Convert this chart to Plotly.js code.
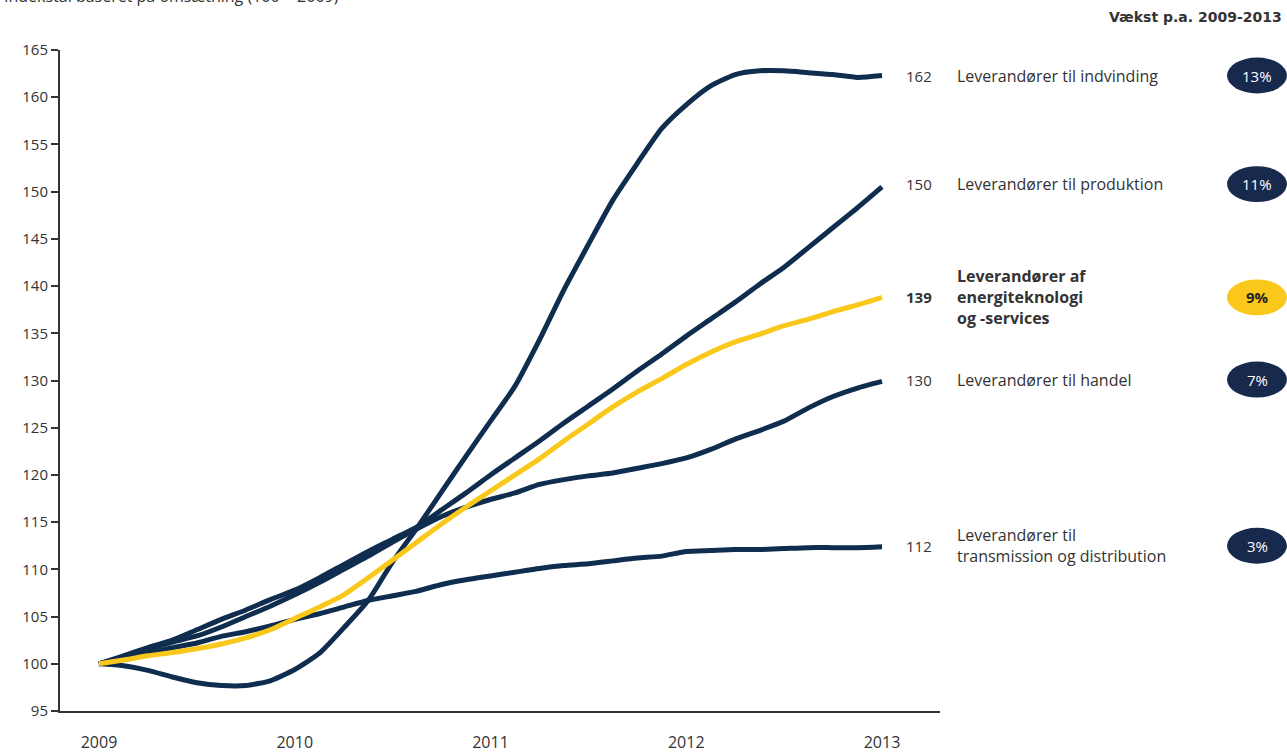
<!DOCTYPE html>
<html>
<head>
<meta charset="utf-8">
<script src="https://cdn.plot.ly/plotly-3.0.1.min.js"></script>
<style>html,body{margin:0;padding:0;background:#fff;}#chart{width:1287px;height:752px;}</style>
</head>
<body>
<div id="chart"></div>
<script>
// x positions: every 1/8 year from 2009 to 2013
var years = [];
for (var k = 0; k <= 32; k++) { years.push(2009 + k / 8); }

var indvinding = [100, 99.8, 99.3, 98.6, 98.0, 97.7, 97.7, 98.2, 99.4, 101.1, 103.8, 106.7, 110.8, 114.4, 118.2, 122.0, 125.7, 129.4, 134.3, 139.6, 144.4, 149.1, 153.0, 156.7, 159.2, 161.2, 162.4, 162.8, 162.8, 162.6, 162.4, 162.1, 162.3];
var produktion = [100, 100.85, 101.7, 102.5, 103.6, 104.7, 105.7, 106.8, 107.8, 109.1, 110.5, 111.9, 113.2, 114.5, 116.3, 118.1, 120.0, 121.8, 123.6, 125.5, 127.3, 129.1, 131.0, 132.8, 134.7, 136.5, 138.3, 140.2, 142.0, 144.1, 146.2, 148.3, 150.5];
var handel = [100, 100.7, 101.5, 102.3, 102.95, 103.9, 105.0, 106.1, 107.3, 108.6, 110.0, 111.4, 112.9, 114.3, 115.6, 116.6, 117.4, 118.1, 119.0, 119.5, 119.9, 120.2, 120.7, 121.2, 121.8, 122.7, 123.8, 124.7, 125.7, 127.1, 128.3, 129.2, 129.9];
var transmission = [100, 100.5, 101.1, 101.7, 102.2, 102.9, 103.4, 104.0, 104.7, 105.3, 106.0, 106.7, 107.2, 107.7, 108.4, 108.9, 109.3, 109.7, 110.1, 110.4, 110.6, 110.9, 111.2, 111.4, 111.9, 112.0, 112.1, 112.1, 112.2, 112.3, 112.3, 112.3, 112.4];
var energi = [100, 100.4, 100.85, 101.2, 101.6, 102.1, 102.75, 103.6, 104.8, 106.0, 107.3, 109.1, 111.0, 112.9, 114.8, 116.6, 118.3, 120.0, 121.7, 123.6, 125.4, 127.2, 128.8, 130.2, 131.7, 133.0, 134.1, 134.9, 135.8, 136.5, 137.3, 138.0, 138.8];

var seriesNames = ["Leverandører til indvinding", "Leverandører til produktion", "Leverandører af<br>energiteknologi<br>og -services", "Leverandører til handel", "Leverandører til<br>transmission og distribution"];
var endLabels = ["162", "150", "139", "130", "112"];
var growth = ["13%", "11%", "9%", "7%", "3%"];
var seriesData = [indvinding, produktion, energi, handel, transmission];
var highlight = [false, false, true, false, false];

var xTickVals = [2009, 2010, 2011, 2012, 2013];
var xTickText = ["2009", "2010", "2011", "2012", "2013"];
var yTickVals = [95, 100, 105, 110, 115, 120, 125, 130, 135, 140, 145, 150, 155, 160, 165];

var navy = "#0f2d4f";
var pillNavy = "#17294d";
var yellow = "#fac81a";
var textCol = "#333333";
var FONT = "Open Sans, sans-serif";

var traces = [];
var order = [0, 1, 3, 4, 2];
order.forEach(function (i) {
  traces.push({
    x: years, y: seriesData[i], type: "scatter", mode: "lines",
    line: {color: highlight[i] ? yellow : navy, width: 5, shape: "spline", smoothing: 0.6},
    hoverinfo: "skip", showlegend: false
  });
});

var annotations = [];
var shapes = [];
var plotL = 60, plotW = 880;
function px2paper(px) { return (px - plotL) / plotW; }
var labelNudge = [0, 0.3, 0, 0.2, 0.1];

seriesData.forEach(function (s, i) {
  var yEnd = s[s.length - 1] + labelNudge[i];
  var bold = highlight[i];
  annotations.push({
    xref: "paper", yref: "y", x: px2paper(934), y: yEnd, xanchor: "right", yanchor: "middle",
    text: bold ? "<b>" + endLabels[i] + "</b>" : endLabels[i], showarrow: false,
    font: {family: FONT, size: 15, color: textCol}
  });
  annotations.push({
    xref: "paper", yref: "y", x: px2paper(955), y: yEnd, xanchor: "left", yanchor: "middle", align: "left",
    text: bold ? "<b>" + seriesNames[i] + "</b>" : seriesNames[i], showarrow: false,
    font: {family: FONT, size: 16, color: textCol}
  });
  shapes.push({
    type: "circle", xref: "paper", yref: "y",
    x0: px2paper(1227), x1: px2paper(1287),
    y0: yEnd - 1.9, y1: yEnd + 1.9,
    fillcolor: bold ? yellow : pillNavy, line: {width: 0}
  });
  annotations.push({
    xref: "paper", yref: "y", x: px2paper(1257), y: yEnd, xanchor: "center", yanchor: "middle",
    text: bold ? "<b>" + growth[i] + "</b>" : growth[i], showarrow: false,
    font: {family: FONT, size: 15, color: bold ? "#222222" : "#ffffff"}
  });
});

annotations.push({
  xref: "paper", yref: "paper", x: px2paper(1284), y: 1 + (50 - 17) / 661, xanchor: "right", yanchor: "middle",
  text: "<b>Vækst p.a. 2009-2013</b>", showarrow: false, font: {family: "DejaVu Sans, sans-serif", size: 14, color: textCol}
});
annotations.push({
  xref: "paper", yref: "paper", x: px2paper(2), y: 1 + (50 + 4) / 661, xanchor: "left", yanchor: "middle",
  text: "Indekstal baseret på omsætning (100 = 2009)", showarrow: false, font: {family: FONT, size: 16, color: textCol}
});

var layout = {
  width: 1287, height: 752,
  margin: {l: 60, r: 347, t: 50, b: 41},
  paper_bgcolor: "#ffffff", plot_bgcolor: "#ffffff",
  font: {family: FONT, size: 15, color: textCol},
  xaxis: {
    range: [2008.8008, 2013.2963], tickvals: xTickVals, ticktext: xTickText,
    showgrid: false, zeroline: false, showline: true, linecolor: "#333333", linewidth: 2,
    ticks: "", ticklabelstandoff: 16, tickfont: {family: FONT, size: 16, color: textCol}
  },
  yaxis: {
    range: [95, 165], tickvals: yTickVals,
    showgrid: false, zeroline: false, showline: true, linecolor: "#333333", linewidth: 2,
    ticks: "outside", ticklen: 7, tickwidth: 2, tickcolor: "#333333",
    tickfont: {family: FONT, size: 15, color: textCol}
  },
  annotations: annotations,
  shapes: shapes,
  showlegend: false
};

Plotly.newPlot("chart", traces, layout, {staticPlot: true, displayModeBar: false});
</script>
</body>
</html>
